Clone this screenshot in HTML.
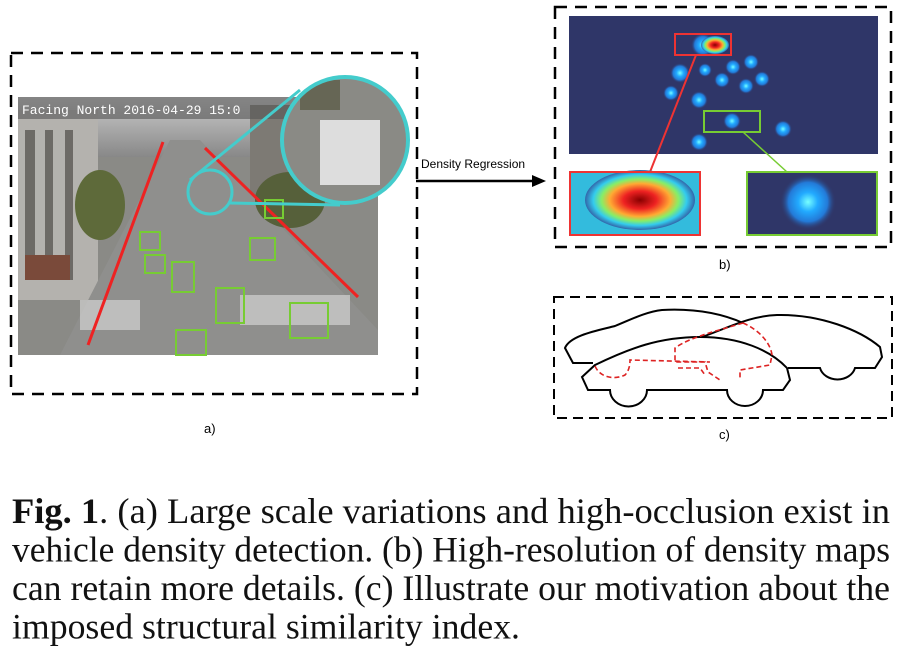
<!DOCTYPE html>
<html><head><style>
body{margin:0;background:#fff;width:900px;height:665px;overflow:hidden}
</style></head><body>
<svg width="900" height="665" style="position:absolute;left:0;top:0" xmlns="http://www.w3.org/2000/svg">
<defs>
<radialGradient id="bl"><stop offset="0" stop-color="#7ff"/><stop offset=".35" stop-color="#2af"/><stop offset=".7" stop-color="#237ad8"/><stop offset="1" stop-color="#2f3668" stop-opacity="0"/></radialGradient>
<radialGradient id="hot"><stop offset="0" stop-color="#800"/><stop offset=".3" stop-color="#e22"/><stop offset=".55" stop-color="#fa3"/><stop offset=".7" stop-color="#8e6"/><stop offset=".85" stop-color="#3ce"/><stop offset="1" stop-color="#36a"/></radialGradient>
<linearGradient id="sky" x1="0" y1="0" x2="0" y2="1"><stop offset="0" stop-color="#ccc"/><stop offset="1" stop-color="#888"/></linearGradient>
<clipPath id="cp"><circle cx="345" cy="140" r="63"/></clipPath>
</defs>
<rect x="11" y="53" width="406" height="341" fill="none" stroke="#000" stroke-width="2.5" stroke-dasharray="12,8"/>
<rect x="18" y="97" width="360" height="258" fill="#8a8a86"/>
<rect x="18" y="97" width="360" height="60" fill="url(#sky)"/>
<rect x="18" y="110" width="80" height="190" fill="#b4b2ae"/>
<g fill="#6d6a66"><rect x="25" y="130" width="10" height="150"/><rect x="45" y="130" width="8" height="150"/><rect x="65" y="130" width="8" height="150"/></g>
<rect x="250" y="105" width="128" height="90" fill="#7d7a74"/>
<polygon points="60,355 170,140 200,140 378,330 378,355" fill="#8f8f8d"/>
<ellipse cx="100" cy="205" rx="25" ry="35" fill="#5e6a3a"/>
<ellipse cx="290" cy="200" rx="35" ry="28" fill="#56603a"/>
<rect x="25" y="255" width="45" height="25" fill="#7a4a3a"/>
<g fill="#eee"><rect x="240" y="295" width="110" height="30" opacity=".5"/><rect x="80" y="300" width="60" height="30" opacity=".5"/></g>
<rect x="18" y="97" width="360" height="22" fill="#555" opacity=".6"/>
<text x="22" y="114" font-family="Liberation Mono,monospace" font-size="13" fill="#fff">Facing North    2016-04-29 15:0</text>
<g stroke="#e22" stroke-width="3"><line x1="88" y1="345" x2="163" y2="142"/><line x1="358" y1="297" x2="205" y2="148"/></g>
<g fill="none" stroke="#7c3" stroke-width="2">
<rect x="140" y="232" width="20" height="18"/><rect x="172" y="262" width="22" height="30"/><rect x="216" y="288" width="28" height="35"/><rect x="290" y="303" width="38" height="35"/><rect x="250" y="238" width="25" height="22"/><rect x="265" y="200" width="18" height="18"/><rect x="176" y="330" width="30" height="25"/><rect x="145" y="255" width="20" height="18"/></g>
<circle cx="210" cy="192" r="22" fill="none" stroke="#4cc" stroke-width="3"/>
<line x1="190" y1="180" x2="300" y2="90" stroke="#4cc" stroke-width="3"/>
<line x1="230" y1="203" x2="340" y2="205" stroke="#4cc" stroke-width="3"/>
<g clip-path="url(#cp)"><rect x="280" y="75" width="130" height="130" fill="#8a8a85"/><rect x="320" y="120" width="60" height="65" fill="#ddd"/><rect x="300" y="80" width="40" height="30" fill="#665"/></g>
<circle cx="345" cy="140" r="63" fill="none" stroke="#4cc" stroke-width="4"/>
<text x="204" y="433" font-family="Liberation Sans,sans-serif" font-size="13">a)</text>
<text x="421" y="168" font-family="Liberation Sans,sans-serif" font-size="12">Density Regression</text>
<line x1="416" y1="181" x2="535" y2="181" stroke="#000" stroke-width="2.5"/>
<polygon points="546,181 532,175 532,187" fill="#000"/>
<rect x="555" y="7" width="336" height="240" fill="none" stroke="#000" stroke-width="2.5" stroke-dasharray="12,8"/>
<rect x="569" y="16" width="309" height="138" fill="#2f3668"/>
<g fill="url(#bl)">
<circle cx="703" cy="45" r="12"/><circle cx="680" cy="73" r="10"/><circle cx="705" cy="70" r="7"/><circle cx="733" cy="67" r="8"/><circle cx="751" cy="62" r="8"/><circle cx="722" cy="80" r="8"/><circle cx="746" cy="86" r="8"/><circle cx="762" cy="79" r="8"/><circle cx="671" cy="93" r="8"/><circle cx="699" cy="100" r="9"/><circle cx="732" cy="121" r="9"/><circle cx="783" cy="129" r="9"/><circle cx="699" cy="142" r="9"/></g>
<ellipse cx="715" cy="45" rx="14" ry="9" fill="url(#hot)"/>
<rect x="675" y="34" width="56" height="21" fill="none" stroke="#e33" stroke-width="2"/>
<rect x="704" y="111" width="56" height="21" fill="none" stroke="#7c3" stroke-width="2"/>
<line x1="696" y1="55" x2="650" y2="172" stroke="#e33" stroke-width="2"/>
<line x1="743" y1="132" x2="787" y2="172" stroke="#7c3" stroke-width="1.5"/>
<rect x="570" y="172" width="130" height="63" fill="#3bd"/>
<ellipse cx="640" cy="200" rx="55" ry="30" fill="url(#hot)"/>
<rect x="570" y="172" width="130" height="63" fill="none" stroke="#e33" stroke-width="2"/>
<rect x="747" y="172" width="130" height="63" fill="#2f3668"/>
<circle cx="808" cy="202" r="28" fill="url(#bl)"/>
<rect x="747" y="172" width="130" height="63" fill="none" stroke="#7c3" stroke-width="2"/>
<text x="719" y="269" font-family="Liberation Sans,sans-serif" font-size="13">b)</text>
<rect x="554" y="297" width="338" height="121" fill="none" stroke="#000" stroke-width="2" stroke-dasharray="10,6"/>
<g fill="none" stroke="#000" stroke-width="2">
<path d="M593,363 L573,363 L565,348 C570,335 600,330 615,326 C630,320 645,312 662,310 C700,308 725,315 743,323"/>
<path d="M702,337 C730,327 750,316 777,315 C820,314 860,330 880,347 L882,357 L875,368 L855,368 A18,15 0 0 1 820,368 L788,368"/>
<path d="M582,377 L595,365 C630,348 660,337 700,337 C740,337 770,350 787,368 L790,380 L783,390 L763,390 A18,16 0 0 1 727,390 L647,390 A18,16 0 0 1 610,390 L588,390 Z"/>
</g>
<g fill="none" stroke="#d22" stroke-width="1.6" stroke-dasharray="5,3">
<path d="M595,366 C600,378 615,380 625,375 C630,370 630,362 630,360 L710,362"/>
<path d="M743,323 C755,328 770,340 772,355 L770,365 L740,370 L740,378"/>
<path d="M743,323 C720,330 690,337 675,348 L675,362 L705,362 L708,372 L720,380"/>
<path d="M678,368 L700,368 L705,375"/>
</g>
<text x="719" y="439" font-family="Liberation Sans,sans-serif" font-size="13">c)</text>
<g font-family="Liberation Serif,serif" font-size="36" fill="#111">
<text x="12" y="523" textLength="878" lengthAdjust="spacingAndGlyphs"><tspan font-weight="bold">Fig. 1</tspan>. (a) Large scale variations and high-occlusion exist in</text>
<text x="12" y="561.5" textLength="878" lengthAdjust="spacingAndGlyphs">vehicle density detection. (b) High-resolution of density maps</text>
<text x="12" y="600" textLength="878" lengthAdjust="spacingAndGlyphs">can retain more details. (c) Illustrate our motivation about the</text>
<text x="12" y="638.5" textLength="508" lengthAdjust="spacingAndGlyphs">imposed structural similarity index.</text>
</g>
</svg>
</body></html>
